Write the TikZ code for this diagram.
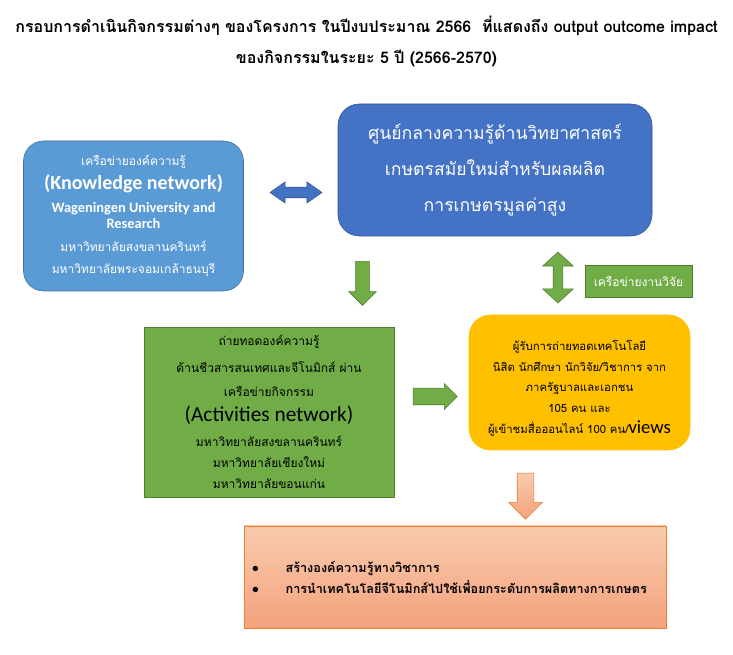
\documentclass[tikz,border=0pt]{standalone}
\usepackage{fontspec}
\usepackage{tikz}
\usetikzlibrary{shapes.arrows}
\setmainfont[Script=Thai]{Loma}
\newfontfamily\latinfont{Carlito}

\begin{document}
\begin{tikzpicture}[x=0.75pt,y=-0.75pt,
  box/.style={align=center,inner sep=0pt,font=\fontsize{9}{17}\selectfont},
  blockarrow/.style={inner sep=#1,outer sep=0pt}]
\definecolor{knowblue}{HTML}{5B9BD5}
\definecolor{knowline}{HTML}{41719C}
\definecolor{hubblue}{HTML}{4472C4}
\definecolor{hubline}{HTML}{2F528F}
\definecolor{actgreen}{HTML}{70AD47}
\definecolor{actline}{HTML}{507E32}
\definecolor{recvyellow}{HTML}{FFC000}
\definecolor{peachtop}{HTML}{F8CBAD}
\definecolor{peachbot}{HTML}{F4A27D}
\definecolor{peachline}{HTML}{ED7D31}
\useasboundingbox (0,0) rectangle (733,655);
\node[font=\bfseries\fontsize{12}{14}\selectfont] (title1) at (366.5,26) {กรอบการดำเนินกิจกรรมต่างๆ ของโครงการ ในปีงบประมาณ 2566\ \ ที่แสดงถึง output outcome impact};
\node[font=\bfseries\fontsize{12}{14}\selectfont] (title2) at (366.5,58) {ของกิจกรรมในระยะ 5 ปี (2566-2570)};
\node[box,draw=knowline,fill=knowblue,text=white,rounded corners=15pt,minimum width=165pt,minimum height=112.5pt] (know) at (133.5,216) {เครือข่ายองค์ความรู้\\[1pt] {\latinfont\bfseries\fontsize{15}{16}\selectfont (Knowledge network)}\\ {\latinfont\bfseries\fontsize{10.8}{12}\selectfont Wageningen University and}\\[-5pt] {\latinfont\bfseries\fontsize{10.8}{12}\selectfont Research}\\ มหาวิทยาลัยสงขลานครินทร์\\ มหาวิทยาลัยพระจอมเกล้าธนบุรี};
\node[box,draw=hubline,fill=hubblue,text=white,rounded corners=16pt,minimum width=235.5pt,minimum height=99pt,font=\fontsize{13.2}{27}\selectfont] (hub) at (495,170) {ศูนย์กลางความรู้ด้านวิทยาศาสตร์\\ เกษตรสมัยใหม่สำหรับผลผลิต\\ การเกษตรมูลค่าสูง};
\node[box,draw=actline,fill=actgreen,minimum width=187.5pt,minimum height=127.5pt,font=\fontsize{9}{19}\selectfont] (acts) at (269,412) {ถ่ายทอดองค์ความรู้\\[1pt] ด้านชีวสารสนเทศและจีโนมิกส์ ผ่าน\\[-1pt] เครือข่ายกิจกรรม\\ {\latinfont\fontsize{16}{18}\selectfont (Activities network)}\\ มหาวิทยาลัยสงขลานครินทร์\\[-3.5pt] มหาวิทยาลัยเชียงใหม่\\[-3pt] มหาวิทยาลัยขอนแก่น};
\node[box,draw=recvyellow,fill=recvyellow,rounded corners=16pt,minimum width=165.75pt,minimum height=101.25pt,font=\fontsize{8.5}{15.5}\selectfont] (recv) at (579.5,382.5) {\rule{0pt}{16pt}ผู้รับการถ่ายทอดเทคโนโลยี\\ นิสิต นักศึกษา นักวิจัย/วิชาการ จาก\\ ภาครัฐบาลและเอกชน\\ 105 คน และ\\ ผู้เข้าชมสื่อออนไลน์ 100 คน/{\latinfont\fontsize{14}{15}\selectfont views}};
\node[box,draw=actline,fill=actgreen,text=white,minimum width=80.25pt,minimum height=24pt,font=\fontsize{9}{12}\selectfont] (resnet) at (638.5,281) {เครือข่ายงานวิจัย};
\node[box,draw=peachline,top color=peachtop,bottom color=peachbot,minimum width=316.5pt,minimum height=76.5pt] (impact) at (455,577) {};
\node[anchor=west,align=left,inner sep=0pt,font=\bfseries\fontsize{9.5}{16}\selectfont] (impacttext) at (252,577.5) {\makebox[25pt][l]{\latinfont\textbullet}สร้างองค์ความรู้ทางวิชาการ\\ \makebox[25pt][l]{\latinfont\textbullet}การนำเทคโนโลยีจีโนมิกส์ไปใช้เพื่อยกระดับการผลิตทางการเกษตร};
\node[double arrow,blockarrow=3.75pt,draw=hubline,fill=hubblue,minimum height=39pt,minimum width=15.75pt,double arrow head extend=4pt,double arrow tip angle=70] (linkarrow) at (296,192.5) {};
\node[single arrow,blockarrow=4.875pt,draw=actline,fill=actgreen,shape border rotate=270,minimum height=33pt,minimum width=20.25pt,single arrow head extend=5.25pt] (downarrow) at (362.5,280) {};
\node[double arrow,blockarrow=3.375pt,draw=actline,fill=actgreen,shape border rotate=90,minimum height=38.25pt,minimum width=22.5pt,double arrow head extend=7.9pt,double arrow tip angle=95] (resarrow) at (558,277.5) {};
\node[single arrow,blockarrow=6pt,draw=actline,fill=actgreen,minimum height=33pt,minimum width=18.75pt,single arrow head extend=3.4pt] (rightarrow) at (431,396.5) {};
\node[single arrow,blockarrow=6pt,draw=peachline,top color=peachtop,bottom color=peachbot,shape border rotate=270,minimum height=34.5pt,minimum width=24.75pt,single arrow head extend=6.4pt] (outarrow) at (525.5,492) {};
\end{tikzpicture}
\end{document}
